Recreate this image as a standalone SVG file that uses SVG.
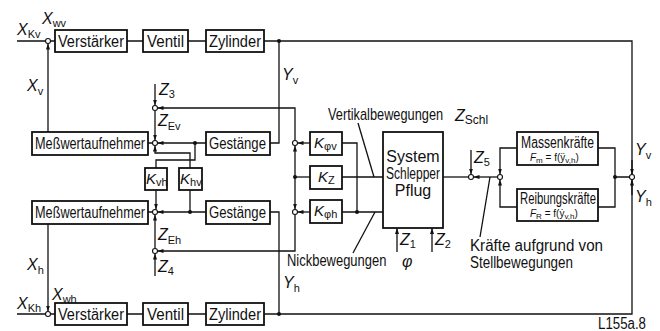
<svg xmlns="http://www.w3.org/2000/svg" width="660" height="331" viewBox="0 0 660 331">
<defs>
<marker id="a" viewBox="0 0 6 4" refX="6" refY="2" markerWidth="6" markerHeight="4" markerUnits="userSpaceOnUse" orient="auto"><path d="M0,0 L6,2 L0,4 z" fill="#111"/></marker>
<style>
.bg{fill:#fff}
.b{fill:#fff;stroke:#111;stroke-width:1.8}
.l{fill:none;stroke:#111;stroke-width:1.3}
.la{fill:none;stroke:#111;stroke-width:1.3;marker-end:url(#a)}
.c{fill:#fff;stroke:#111;stroke-width:1.1}
.d{fill:#111}
.t{font-family:"Liberation Sans",Arial,sans-serif;font-size:16px;fill:#111}
.m{font-size:15px}
.v{font-style:italic}
.s{font-size:11px}
.x{font-size:10px}
</style>
</defs>
<rect class="bg" x="0" y="0" width="660" height="331"/>

<g id="connectors">
<path class="l" d="M17,41 H45.5 M50.5,41 H55 M127,41 H143 M188,41 H206 M264,41 H632 V174.5"/>
<path class="la" d="M632,160 V174.5"/>
<path class="l" d="M632,179.5 V314 H264 M206,314 H188 M143,314 H127 M55,314 H50.5 M45.5,314 H17"/>
<path class="la" d="M632,195 V179.5"/>
<path class="la" d="M48,132 V43.5"/>
<path class="la" d="M48,224 V311.5"/>
<path class="l" d="M279,41 V143 H270"/>
<path class="l" d="M279,314 V212 H270"/>
<path class="la" d="M206,143 H157.5"/>
<path class="la" d="M206,212 H157.5"/>
<path class="l" d="M152.5,143 H148 M152.5,212 H148"/>
<path class="la" d="M190,168 V153 H155 V145.5"/>
<path class="l" d="M156,168 V160 H195 V143"/>
<path class="la" d="M156,190 V209.5"/>
<path class="l" d="M190,190 V212"/>
<path class="la" d="M155,84 V105.5"/>
<path class="la" d="M155,110.5 V140.5"/>
<path class="la" d="M155,276 V253.5"/>
<path class="la" d="M155,248.5 V214.5"/>
<path class="la" d="M295,140.5 V108 H157.5"/>
<path class="la" d="M295,214.5 V251 H157.5"/>
<path class="la" d="M310,143 H297.5"/>
<path class="la" d="M310,212 H297.5"/>
<path class="l" d="M310,177 H295"/>
<path class="la" d="M295,177 V145.5"/>
<path class="la" d="M295,177 V209.5"/>
<path class="l" d="M342,143 H357 V212 M342,177 H383 M342,212 H383"/>
<path class="la" d="M397,252 V228"/>
<path class="la" d="M432,252 V228"/>
<path class="l" d="M443,177 H468.5"/>
<path class="la" d="M471,150 V174.5"/>
<path class="la" d="M497.5,177 H473.5"/>
<path class="la" d="M517,148 H500 V174.5"/>
<path class="la" d="M517,207 H500 V179.5"/>
<path class="l" d="M598,148 H615 V207 H598 M615,177 H629.5"/>
<path class="l" d="M358,123 L374,177"/>
<path class="l" d="M353,253 L375,212"/>
<path class="l" d="M480,237 L490,177"/>
<circle class="d" cx="279" cy="41" r="2"/>
<circle class="d" cx="279" cy="314" r="2"/>
<circle class="d" cx="195" cy="143" r="2"/>
<circle class="d" cx="190" cy="212" r="2"/>
<circle class="d" cx="295" cy="177" r="2"/>
<circle class="d" cx="357" cy="212" r="2"/>
<circle class="d" cx="615" cy="177" r="2"/>
<circle class="c" cx="48" cy="41" r="2.5"/>
<circle class="c" cx="48" cy="314" r="2.5"/>
<circle class="c" cx="155" cy="108" r="2.5"/>
<circle class="c" cx="155" cy="143" r="2.5"/>
<circle class="c" cx="155" cy="212" r="2.5"/>
<circle class="c" cx="155" cy="251" r="2.5"/>
<circle class="c" cx="295" cy="143" r="2.5"/>
<circle class="c" cx="295" cy="212" r="2.5"/>
<circle class="c" cx="471" cy="177" r="2.5"/>
<circle class="c" cx="500" cy="177" r="2.5"/>
<circle class="c" cx="632" cy="177" r="2.5"/>
</g>

<g id="verstaerker-v"><rect class="b" x="55" y="30" width="72" height="22"/><text class="t" x="58" y="47" textLength="66" lengthAdjust="spacingAndGlyphs">Verstärker</text></g>
<g id="ventil-v"><rect class="b" x="143" y="30" width="45" height="22"/><text class="t" x="147" y="47" textLength="37" lengthAdjust="spacingAndGlyphs">Ventil</text></g>
<g id="zylinder-v"><rect class="b" x="206" y="30" width="58" height="22"/><text class="t" x="209" y="47" textLength="52" lengthAdjust="spacingAndGlyphs">Zylinder</text></g>
<g id="verstaerker-h"><rect class="b" x="55" y="303" width="72" height="22"/><text class="t" x="58" y="320" textLength="66" lengthAdjust="spacingAndGlyphs">Verstärker</text></g>
<g id="ventil-h"><rect class="b" x="143" y="303" width="45" height="22"/><text class="t" x="147" y="320" textLength="37" lengthAdjust="spacingAndGlyphs">Ventil</text></g>
<g id="zylinder-h"><rect class="b" x="206" y="303" width="58" height="22"/><text class="t" x="209" y="320" textLength="52" lengthAdjust="spacingAndGlyphs">Zylinder</text></g>
<g id="messwert-v"><rect class="b" x="32" y="132" width="116" height="23"/><text class="t" x="35" y="149" textLength="110" lengthAdjust="spacingAndGlyphs">Meßwertaufnehmer</text></g>
<g id="messwert-h"><rect class="b" x="32" y="201" width="116" height="23"/><text class="t" x="35" y="218" textLength="110" lengthAdjust="spacingAndGlyphs">Meßwertaufnehmer</text></g>
<g id="gestaenge-v"><rect class="b" x="206" y="132" width="64" height="23"/><text class="t" x="209" y="149" textLength="57" lengthAdjust="spacingAndGlyphs">Gestänge</text></g>
<g id="gestaenge-h"><rect class="b" x="206" y="201" width="64" height="23"/><text class="t" x="209" y="218" textLength="57" lengthAdjust="spacingAndGlyphs">Gestänge</text></g>
<g id="k-vh"><rect class="b" x="145" y="168" width="22" height="22"/><text class="t m" x="146" y="184"><tspan class="v">K</tspan><tspan class="s" dy="2">vh</tspan></text></g>
<g id="k-hv"><rect class="b" x="179" y="168" width="23" height="22"/><text class="t m" x="180" y="184"><tspan class="v">K</tspan><tspan class="s" dy="2">hv</tspan></text></g>
<g id="k-phiv"><rect class="b" x="310" y="132" width="32" height="23"/><text class="t m" x="314" y="148"><tspan class="v">K</tspan><tspan class="s" dy="2">φv</tspan></text></g>
<g id="k-z"><rect class="b" x="310" y="166" width="32" height="23"/><text class="t m" x="318" y="182"><tspan class="v">K</tspan><tspan class="s" dy="2">Z</tspan></text></g>
<g id="k-phih"><rect class="b" x="310" y="200" width="32" height="23"/><text class="t m" x="314" y="216"><tspan class="v">K</tspan><tspan class="s" dy="2">φh</tspan></text></g>
<g id="system"><rect class="b" x="383" y="132" width="60" height="96"/>
<text class="t" x="413" y="162" text-anchor="middle">System</text>
<text class="t" x="413" y="179" text-anchor="middle" textLength="54" lengthAdjust="spacingAndGlyphs">Schlepper</text>
<text class="t" x="413" y="196" text-anchor="middle">Pflug</text></g>
<g id="massen"><rect class="b" x="517" y="132" width="81" height="33"/>
<text class="t" x="521" y="148" textLength="73" lengthAdjust="spacingAndGlyphs">Massenkräfte</text>
<text class="t x" x="530" y="161"><tspan class="v">F</tspan><tspan dy="1.5" font-size="8">m</tspan><tspan dy="-1.5"> = f(ÿ</tspan><tspan dy="1.5" font-size="8">v,h</tspan><tspan dy="-1.5">)</tspan></text></g>
<g id="reibung"><rect class="b" x="517" y="189" width="81" height="32"/>
<text class="t" x="520" y="204" textLength="76" lengthAdjust="spacingAndGlyphs">Reibungskräfte</text>
<text class="t x" x="530" y="217"><tspan class="v">F</tspan><tspan dy="1.5" font-size="8">R</tspan><tspan dy="-1.5"> = f(ẏ</tspan><tspan dy="1.5" font-size="8">v,h</tspan><tspan dy="-1.5">)</tspan></text></g>

<g id="labels">
<text class="t" x="17" y="35"><tspan class="v">X</tspan><tspan class="s" dy="3">Kv</tspan></text>
<text class="t" x="42" y="24"><tspan class="v">X</tspan><tspan class="s" dy="3">wv</tspan></text>
<text class="t" x="27" y="91"><tspan class="v">X</tspan><tspan class="s" dy="4">v</tspan></text>
<text class="t" x="27" y="270"><tspan class="v">X</tspan><tspan class="s" dy="4">h</tspan></text>
<text class="t" x="52" y="300"><tspan class="v">X</tspan><tspan class="s" dy="3">wh</tspan></text>
<text class="t" x="17" y="309"><tspan class="v">X</tspan><tspan class="s" dy="3">Kh</tspan></text>
<text class="t" x="159" y="95"><tspan class="v">Z</tspan><tspan class="s" dy="3">3</tspan></text>
<text class="t" x="158" y="126"><tspan class="v">Z</tspan><tspan class="s" dy="4">Ev</tspan></text>
<text class="t" x="158" y="240"><tspan class="v">Z</tspan><tspan class="s" dy="4">Eh</tspan></text>
<text class="t" x="158" y="272"><tspan class="v">Z</tspan><tspan class="s" dy="3">4</tspan></text>
<text class="t" x="282" y="80"><tspan class="v">Y</tspan><tspan class="s" dy="4">v</tspan></text>
<text class="t" x="283" y="288"><tspan class="v">Y</tspan><tspan class="s" dy="4">h</tspan></text>
<text class="t" x="635" y="155"><tspan class="v">Y</tspan><tspan class="s" dy="4">v</tspan></text>
<text class="t" x="635" y="202"><tspan class="v">Y</tspan><tspan class="s" dy="4">h</tspan></text>
<text class="t" transform="translate(328,120) scale(0.8,1)">Vertikalbewegungen</text>
<text class="t" x="455" y="121"><tspan class="v">Z</tspan><tspan font-size="12" dy="3">Schl</tspan></text>
<text class="t" x="474" y="163"><tspan class="v">Z</tspan><tspan class="s" dy="3">5</tspan></text>
<text class="t" x="400" y="245"><tspan class="v">Z</tspan><tspan class="s" dy="3">1</tspan></text>
<text class="t" x="435" y="245"><tspan class="v">Z</tspan><tspan class="s" dy="3">2</tspan></text>
<text class="t" transform="translate(287,266) scale(0.81,1)">Nickbewegungen</text>
<text class="t v" x="402" y="267">φ</text>
<text class="t" x="470" y="251" textLength="133" lengthAdjust="spacingAndGlyphs">Kräfte aufgrund von</text>
<text class="t" x="470" y="268" textLength="103" lengthAdjust="spacingAndGlyphs">Stellbewegungen</text>
<text class="t" x="598" y="329" font-size="12" textLength="48" lengthAdjust="spacingAndGlyphs">L155a.8</text>
</g>
</svg>
